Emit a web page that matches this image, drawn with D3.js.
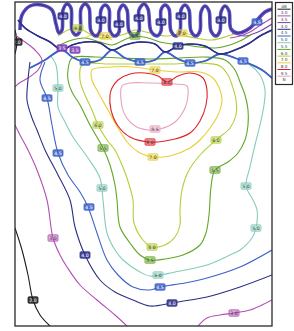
<!DOCTYPE html>
<html><head><meta charset="utf-8">
<script src="https://cdn.jsdelivr.net/npm/d3@7"></script>
<style>body{margin:0;background:#fff}svg{display:block}</style>
</head><body><svg id="c" width="294" height="331"></svg>
<script>
// contour levels (outer -> inner)
const levelValues = ["2.0","3.0","3.5","4.0","4.5","5.0","5.5","6.0","7.0","8.0","9.5"];
const levelColors = ["#1c1c1c","#b24fb3","#7a3db6","#2b2e86","#3e62c8","#83cdbb","#62a726","#b3cf36","#e7cf36","#df2228","#e7a1c0"];
const legendTexts = ["dB","3.0","3.5","4.0","4.5","5.0","5.5","6.0","7.0","8.0","9.5","N"];

// contour polylines, in decimetres (x from left wall, y from top wall)
const lineBlack = [
  [[0,226],[7,248],[13,273],[18,298],[25,313],[35,324]],
  [[0,28],[2,40],[0,52]]
];
const lineMagenta = [
  [[0,33],[10,40],[20,48],[27,58],[23,68],[13,76],[3,82],[0,85]],
  [[0,123],[5,133],[13,148],[22,168],[32,198],[38,236],[45,253],[52,265],[65,283],[82,298],[100,313],[112,324]],
  [[183,324],[192,316],[205,313],[219,311],[235,308],[247,303],[257,298]],
  [[215,36],[225,34],[235,30],[247,22],[257,16]]
];
const linePurple = [
  [[217,31],[230,34],[243,30],[257,22]]
];
const lineComb = [
  [[5,28],[7,13],[15,4],[27,3],[37,8],[41,22],[44,31],[47,28],[48,8],[52,2],[56,6],[57,28],[61,33],[65,29],[66,7],[70,2],[74,6],[76,29],[81,34],[85,29],[86,8],[90,3],[94,7],[95,29],[100,34],[104,30],[104,9],[108,3],[112,8],[114,29],[119,34],[124,29],[124,8],[129,2],[133,7],[136,29],[142,34],[146,29],[146,8],[150,3],[154,7],[156,29],[161,34],[165,29],[166,8],[170,3],[174,8],[176,29],[181,34],[185,29],[186,10],[190,4],[194,9],[196,29],[201,34],[205,29],[206,10],[210,4],[214,9],[216,27],[223,31],[235,26],[243,17],[250,10],[257,7]]
];
const lineNavy = [
  [[15,60],[13,78],[12,98],[17,116],[22,128],[30,148],[43,173],[55,198],[60,225],[70,253],[85,278],[100,290],[118,298],[135,304],[157,301],[175,298],[192,295],[225,285],[257,273]],
  [[3,18],[10,26],[23,34],[35,40],[47,48],[57,43],[70,40],[85,41],[97,48],[110,43],[125,40],[140,42],[150,50],[163,44],[175,42],[190,44],[205,52],[220,48],[233,42],[245,34],[257,28]]
];
const lineBlue = [
  [[30,60],[25,78],[32,96],[37,123],[43,151],[53,173],[65,190],[73,205],[82,231],[92,258],[103,273],[118,285],[135,288],[145,285],[170,281],[192,276],[225,265],[257,248]],
  [[15,66],[30,58],[47,48],[57,55],[70,60],[85,58],[97,48],[110,56],[125,60],[140,58],[150,50],[163,57],[175,61],[190,59],[205,52],[220,56],[235,62],[247,68],[257,76]]
];
const lineTeal = [
  [[35,53],[41,63],[43,86],[43,105],[50,120],[58,135],[73,156],[85,176],[88,198],[92,231],[100,248],[108,258],[125,270],[135,274],[160,270],[192,263],[215,253],[225,248],[237,236],[241,226],[242,208],[238,198],[231,184],[235,165],[240,143],[245,123],[249,103],[250,88],[245,73],[235,63],[223,58]]
];
const lineGreen = [
  [[57,56],[53,68],[53,78],[57,90],[65,103],[75,123],[88,146],[95,163],[100,183],[102,198],[105,225],[115,241],[125,253],[135,258],[150,257],[168,253],[185,243],[191,231],[194,213],[195,198],[196,185],[200,168],[213,160],[223,151],[230,138],[233,123],[233,108],[230,93],[225,80],[220,68],[210,58],[190,55],[165,56],[135,57],[105,56],[80,55],[57,56]],
  [[45,43],[57,38],[70,36],[85,40],[97,43],[109,38],[120,34],[133,36],[145,40],[157,42],[170,43],[185,45],[200,46],[215,43],[227,38],[237,32]]
];
const lineLime = [
  [[67,63],[65,78],[70,93],[77,108],[83,123],[92,138],[100,148],[107,163],[112,176],[118,198],[119,221],[128,238],[137,245],[150,243],[160,235],[165,223],[165,208],[167,188],[173,170],[185,153],[201,138],[215,126],[221,113],[221,98],[217,83],[213,73],[205,64],[185,61],[155,62],[125,62],[95,62],[67,63]],
  [[43,34],[53,28],[63,26],[75,32],[85,36],[98,35],[110,32],[120,28],[135,31],[150,34],[163,33],[180,36],[197,38],[213,34],[225,30],[235,26]]
];
const lineYellow = [
  [[77,68],[95,65],[118,65],[140,68],[162,70],[185,70],[198,76],[205,88],[207,98],[203,113],[195,126],[185,138],[175,146],[155,154],[138,155],[125,151],[113,141],[103,126],[93,108],[83,90],[77,78],[77,68]],
  [[70,36],[80,32],[90,34],[97,38]],
  [[157,34],[167,31],[177,33]]
];
const lineRed = [
  [[97,86],[103,78],[115,72],[130,71],[143,74],[152,80],[163,74],[175,71],[188,76],[192,88],[191,103],[185,119],[175,131],[160,137],[135,140],[115,135],[103,124],[96,108],[95,93],[97,86]]
];
const linePink = [
  [[107,84],[115,81],[135,81],[160,82],[172,84],[173,93],[170,106],[160,120],[145,127],[133,128],[120,124],[110,113],[106,98],[107,84]]
];

// label anchor points per level
const labelsBlack = [[18,298],[2,40]];
const labelsMagenta = [[38,236],[219,311]];
const labelsPurple = [[47,46],[60,48]];
const labelsNavy = [[70,253],[157,301],[163,44],[48,14],[86,18],[124,16],[146,20],[166,14],[206,18],[104,22]];
const labelsBlue = [[32,96],[43,151],[74,205],[145,285],[125,60],[175,61],[70,60],[228,59],[242,20]];
const labelsTeal = [[43,86],[87,186],[143,273],[241,226],[231,184]];
const labelsGreen = [[88,146],[200,168],[135,258],[120,34]];
const labelsLime = [[83,123],[201,138],[137,245],[63,26]];
const labelsYellow = [[140,68],[138,155],[90,34],[167,31]];
const labelsRed = [[152,80],[135,140]];
const labelsPink = [[140,127]];

const contourSets = [[0,lineBlack],[1,lineMagenta],[2,linePurple],[5,lineTeal],[6,lineGreen],[7,lineLime],[8,lineYellow],[9,lineRed],[10,linePink],[4,lineBlue],[3,lineNavy]];
const labelSets = [[0,labelsBlack],[1,labelsMagenta],[2,labelsPurple],[3,labelsNavy],[4,labelsBlue],[5,labelsTeal],[6,labelsGreen],[7,labelsLime],[8,labelsYellow],[9,labelsRed],[10,labelsPink]];

const svg = d3.select("#c");
const x = d3.scaleLinear().domain([0,257]).range([15,272]);
const y = d3.scaleLinear().domain([0,324]).range([2,326]);

svg.append("defs").append("clipPath").attr("id","clip")
  .append("rect").attr("x",x(0)).attr("y",y(0)).attr("width",x(257)-x(0)).attr("height",y(324)-y(0));

const plot = svg.append("g").attr("clip-path","url(#clip)");

function pathFor(pts){
  const f = pts[0], l = pts[pts.length-1];
  const closed = f[0]===l[0] && f[1]===l[1];
  const gen = d3.line().x(d=>x(d[0])).y(d=>y(d[1]))
    .curve(closed ? d3.curveCatmullRomClosed.alpha(0.5) : d3.curveCatmullRom.alpha(0.5));
  return gen(closed ? pts.slice(0,-1) : pts);
}

contourSets.forEach(([li, set])=>{
  set.forEach(pts=>{
    plot.append("path").attr("d",pathFor(pts)).attr("fill","none")
      .attr("stroke",levelColors[li]).attr("stroke-width",1.1).attr("stroke-linejoin","round");
  });
});

// comb: layered strokes (blue / purple / navy bundle)
[[4,3.6],[2,2.2],[3,0.9]].forEach(([li,w])=>{
  lineComb.forEach(pts=>{
    plot.append("path").attr("d",pathFor(pts)).attr("fill","none")
      .attr("stroke",levelColors[li]).attr("stroke-width",w).attr("stroke-linejoin","round");
  });
});

// lens band emphasis
lineBlue.slice(1).forEach(pts=>{
  plot.append("path").attr("d",pathFor(pts)).attr("fill","none")
    .attr("stroke",levelColors[4]).attr("stroke-width",1.8);
});
lineNavy.slice(1).forEach(pts=>{
  plot.append("path").attr("d",pathFor(pts)).attr("fill","none")
    .attr("stroke",levelColors[3]).attr("stroke-width",1.6);
});

// labels
const dark = new Set([0,2,3,4]);
labelSets.forEach(([li,set])=>{
  set.forEach(p=>{
    const g = plot.append("g").attr("transform",`translate(${x(p[0])},${y(p[1])})`);
    g.append("rect").attr("x",-5).attr("y",-3.2).attr("width",10).attr("height",6.4).attr("rx",1)
      .attr("fill",levelColors[li]).attr("fill-opacity",dark.has(li)?0.85:0.45)
      .attr("stroke",levelColors[li]).attr("stroke-width",0.8);
    g.append("text").attr("text-anchor","middle").attr("y",1.7)
      .attr("font-family","DejaVu Sans, sans-serif").attr("font-size",4.6)
      .attr("fill",dark.has(li)?"#fff":"#333").text(levelValues[li]);
  });
});

// frame
svg.append("rect").attr("x",x(0)).attr("y",y(0)).attr("width",x(257)-x(0)).attr("height",y(324)-y(0))
  .attr("fill","none").attr("stroke","#2a2a2a").attr("stroke-width",1.3);

// legend
const lg = svg.append("g");
lg.append("rect").attr("x",275.5).attr("y",2.5).attr("width",17).attr("height",82)
  .attr("fill","#fff").attr("stroke","#2a2a2a").attr("stroke-width",1.2);
legendTexts.forEach((t,i)=>{
  const yy = 4 + i*6.7;
  lg.append("text").attr("x",284).attr("y",yy+3.6).attr("text-anchor","middle")
    .attr("font-family","DejaVu Sans, sans-serif").attr("font-size",4.2).attr("fill","#444").text(t);
  if(i < levelColors.length){
    lg.append("line").attr("x1",277.5).attr("x2",290.5).attr("y1",yy+5.2).attr("y2",yy+5.2)
      .attr("stroke",levelColors[i]).attr("stroke-width",1);
  }
});
</script></body></html>
